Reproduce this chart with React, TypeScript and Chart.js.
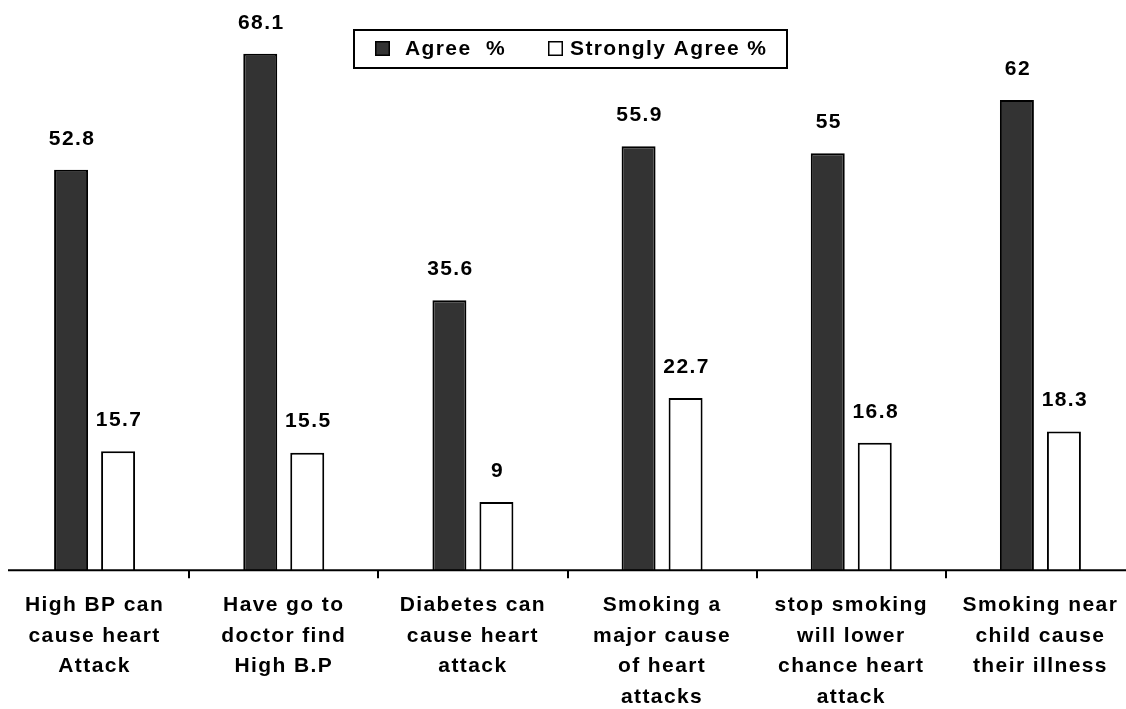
import React, { useEffect, useRef } from "react";
import { Chart, registerables } from "chart.js";

Chart.register(...registerables);

const categories: string[][] = [
  ["High BP can", "cause heart", "Attack"],
  ["Have go to", "doctor find", "High B.P"],
  ["Diabetes can", "cause heart", "attack"],
  ["Smoking a", "major cause", "of heart", "attacks"],
  ["stop smoking", "will lower", "chance heart", "attack"],
  ["Smoking near", "child cause", "their illness"],
];
const agree: number[] = [52.8, 68.1, 35.6, 55.9, 55, 62];
const stronglyAgree: number[] = [15.7, 15.5, 9, 22.7, 16.8, 18.3];
const seriesNames: string[] = ["Agree  %", "Strongly Agree %"];

const FONT_FAMILY = "'Liberation Sans', Arial, sans-serif";
const SPACING = "1.4px";
const FONT_SIZE = 21;

const spacingPlugin = {
  id: "spacing",
  beforeUpdate(chart: any) {
    chart.ctx.letterSpacing = SPACING;
  },
  beforeLayout(chart: any) {
    chart.ctx.letterSpacing = SPACING;
  },
  beforeDraw(chart: any) {
    chart.ctx.letterSpacing = SPACING;
  },
};

const decorPlugin = {
  id: "decor",
  afterDatasetsDraw(chart: any) {
    const ctx = chart.ctx;
    ctx.save();
    ctx.letterSpacing = SPACING;
    ctx.font = `bold ${FONT_SIZE}px ${FONT_FAMILY}`;
    ctx.fillStyle = "#000";
    ctx.textAlign = "center";
    ctx.textBaseline = "middle";
    chart.data.datasets.forEach((ds: any, di: number) => {
      const meta = chart.getDatasetMeta(di);
      meta.data.forEach((bar: any, i: number) => {
        ctx.fillText(String(ds.data[i]), bar.x + 1, bar.y - 31);
      });
    });
    ctx.restore();
  },
  afterDraw(chart: any) {
    const ctx = chart.ctx;
    const area = chart.chartArea;
    ctx.save();
    // axis line
    ctx.strokeStyle = "#000";
    ctx.lineWidth = 2;
    ctx.beginPath();
    ctx.moveTo(8, area.bottom);
    ctx.lineTo(chart.width, area.bottom);
    ctx.stroke();

    // legend box
    ctx.lineWidth = 2;
    ctx.strokeRect(354, 30, 433, 38);
    const items = chart.data.datasets.map((ds: any, i: number) => ({
      label: seriesNames[i],
      fill: ds.backgroundColor,
    }));
    const squareX = [375, 548];
    const textX = [405, 570];
    ctx.font = `bold ${FONT_SIZE}px ${FONT_FAMILY}`;
    ctx.letterSpacing = SPACING;
    ctx.textAlign = "left";
    ctx.textBaseline = "middle";
    items.forEach((it: any, i: number) => {
      ctx.fillStyle = it.fill;
      ctx.fillRect(squareX[i], 41, 15, 15);
      ctx.lineWidth = 1.5;
      ctx.strokeStyle = "#000";
      ctx.strokeRect(squareX[i] + 0.75, 41.75, 13.5, 13.5);
      ctx.fillStyle = "#000";
      ctx.fillText(it.label, textX[i], 49.5);
    });
    ctx.restore();
  },
};

export default function App() {
  const canvasRef = useRef<HTMLCanvasElement | null>(null);

  useEffect(() => {
    if (!canvasRef.current) return;
    const chart = new Chart(canvasRef.current, {
      type: "bar",
      data: {
        labels: categories,
        datasets: [
          {
            label: seriesNames[0],
            data: agree,
            backgroundColor: "#333333",
            borderColor: "#000000",
            borderWidth: 2,
            categoryPercentage: 0.497,
            barPercentage: 0.723,
          },
          {
            label: seriesNames[1],
            data: stronglyAgree,
            backgroundColor: "#ffffff",
            borderColor: "#000000",
            borderWidth: 2,
            categoryPercentage: 0.497,
            barPercentage: 0.723,
          },
        ],
      },
      options: {
        responsive: false,
        animation: false,
        devicePixelRatio: 1,
        layout: { padding: { top: 0, left: 0, right: 0, bottom: 0 } },
        plugins: {
          legend: { display: false },
          tooltip: { enabled: false },
          title: { display: false },
        },
        scales: {
          y: {
            display: false,
            min: 0,
            max: 75.2,
          },
          x: {
            offset: true,
            border: { display: false },
            grid: {
              display: true,
              offset: true,
              drawOnChartArea: false,
              drawTicks: true,
              tickLength: 8,
              color: (c: any) => (c.index === 0 ? "rgba(0,0,0,0)" : "#000"),
              lineWidth: 2,
            },
            ticks: {
              color: "#000",
              padding: 12,
              maxRotation: 0,
              autoSkip: false,
              font: { family: FONT_FAMILY, size: FONT_SIZE, weight: "bold", lineHeight: 1.45 },
            },
          },
        },
      },
      plugins: [spacingPlugin, decorPlugin],
    });
    return () => chart.destroy();
  }, []);

  return (
    <div
      style={{
        position: "fixed",
        left: 0,
        top: 0,
        width: 1126,
        height: 709,
        overflow: "hidden",
        background: "#fff",
      }}
    >
      <canvas
        ref={canvasRef}
        width={1135}
        height={724}
        style={{ display: "block", width: 1135, height: 724 }}
      />
    </div>
  );
}
